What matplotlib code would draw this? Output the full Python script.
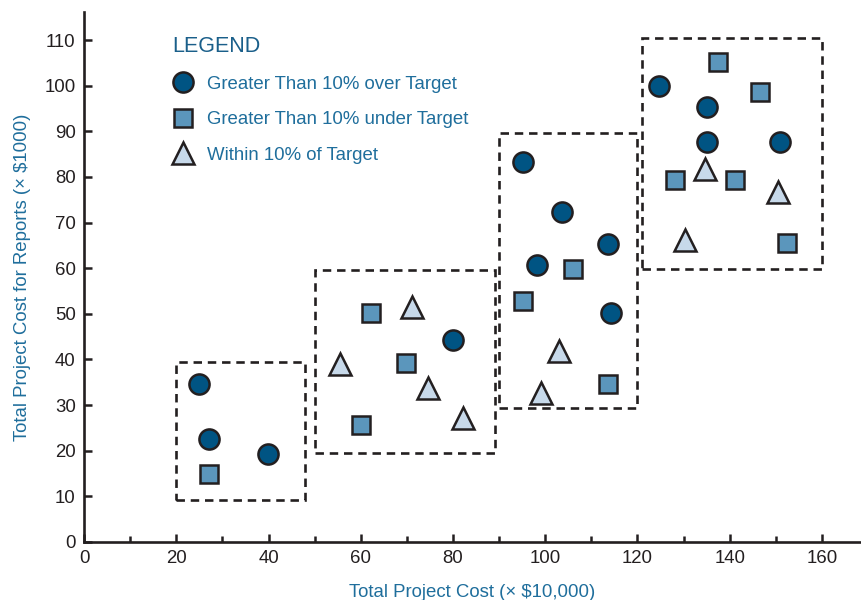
import matplotlib.pyplot as plt
from matplotlib.patches import Rectangle
from matplotlib.ticker import MultipleLocator

plt.rcParams['font.family'] = ['Liberation Sans', 'DejaVu Sans']

# data
over_x = [24.9, 27.1, 39.9, 80.0, 95.2, 103.6, 98.2, 113.6, 114.3, 124.7, 135.1, 135.1, 150.9]
over_y = [34.6, 22.6, 19.3, 44.3, 83.2, 72.4, 60.6, 65.4, 50.1, 99.9, 95.3, 87.6, 87.6]

under_x = [27.1, 62.2, 69.8, 60.1, 95.2, 106.0, 113.6, 137.5, 146.6, 128.1, 141.1, 152.4]
under_y = [14.9, 50.1, 39.3, 25.7, 52.7, 59.9, 34.7, 105.2, 98.6, 79.3, 79.3, 65.6]

within_x = [55.5, 71.1, 74.6, 82.2, 103.0, 99.1, 134.6, 130.3, 150.5]
within_y = [38.9, 51.4, 33.8, 27.2, 41.9, 32.7, 81.7, 66.1, 76.6]

# dashed groups
box_x0 = [20, 50, 90, 121]
box_x1 = [48, 89, 120, 160]
box_y0 = [9.2, 19.5, 29.4, 59.8]
box_y1 = [39.4, 59.6, 89.6, 110.4]

ink = '#231f20'
label_blue = '#1f6e9c'

fig = plt.figure(figsize=(8.61, 6), dpi=100)
ax = fig.add_axes([0.0976, 0.0967, 0.901, 0.883])

for x0, x1, y0, y1 in zip(box_x0, box_x1, box_y0, box_y1):
    ax.add_patch(Rectangle((x0, y0), x1 - x0, y1 - y0, fill=False,
                           edgecolor=ink, lw=1.9, linestyle=(0, (3.2, 2.2)), zorder=1))

ax.plot(over_x, over_y, 'o', ms=14.5, mfc='#005483', mec=ink, mew=1.8,
        label='Greater Than 10% over Target', zorder=3)
ax.plot(under_x, under_y, 's', ms=13, mfc='#5b96bc', mec=ink, mew=1.8,
        label='Greater Than 10% under Target', zorder=3)
ax.plot(within_x, within_y, '^', ms=16, mfc='#c7d9ea', mec=ink, mew=1.8,
        label='Within 10% of Target', zorder=3)

ax.set_xlim(0, 168.2)
ax.set_ylim(0, 116.1)
ax.xaxis.set_major_locator(MultipleLocator(20))
ax.xaxis.set_minor_locator(MultipleLocator(10))
ax.yaxis.set_major_locator(MultipleLocator(10))

for side in ['top', 'right']:
    ax.spines[side].set_visible(False)
for side in ['left', 'bottom']:
    ax.spines[side].set_linewidth(1.9)
    ax.spines[side].set_color(ink)

ax.tick_params(which='major', direction='in', length=6, width=1.8, color=ink,
               labelsize=13.4, labelcolor=ink, pad=6)
ax.tick_params(which='minor', direction='in', length=4, width=1.8, color=ink)

ax.set_xlabel('Total Project Cost (× $10,000)', fontsize=13.4, color=label_blue, labelpad=12)
ax.set_ylabel('Total Project Cost for Reports (× $1000)', fontsize=13.4, color=label_blue, labelpad=10)

leg = ax.legend(loc='upper left', bbox_to_anchor=(0.104, 0.969), frameon=False,
                title='LEGEND', alignment='left', fontsize=13.4, labelcolor=label_blue,
                labelspacing=1.0, handletextpad=0.65, handlelength=1.2, borderaxespad=0)
leg.get_title().set_fontsize(15.5)
leg.get_title().set_color('#1a5f8a')

plt.savefig('out.png', dpi=100)
